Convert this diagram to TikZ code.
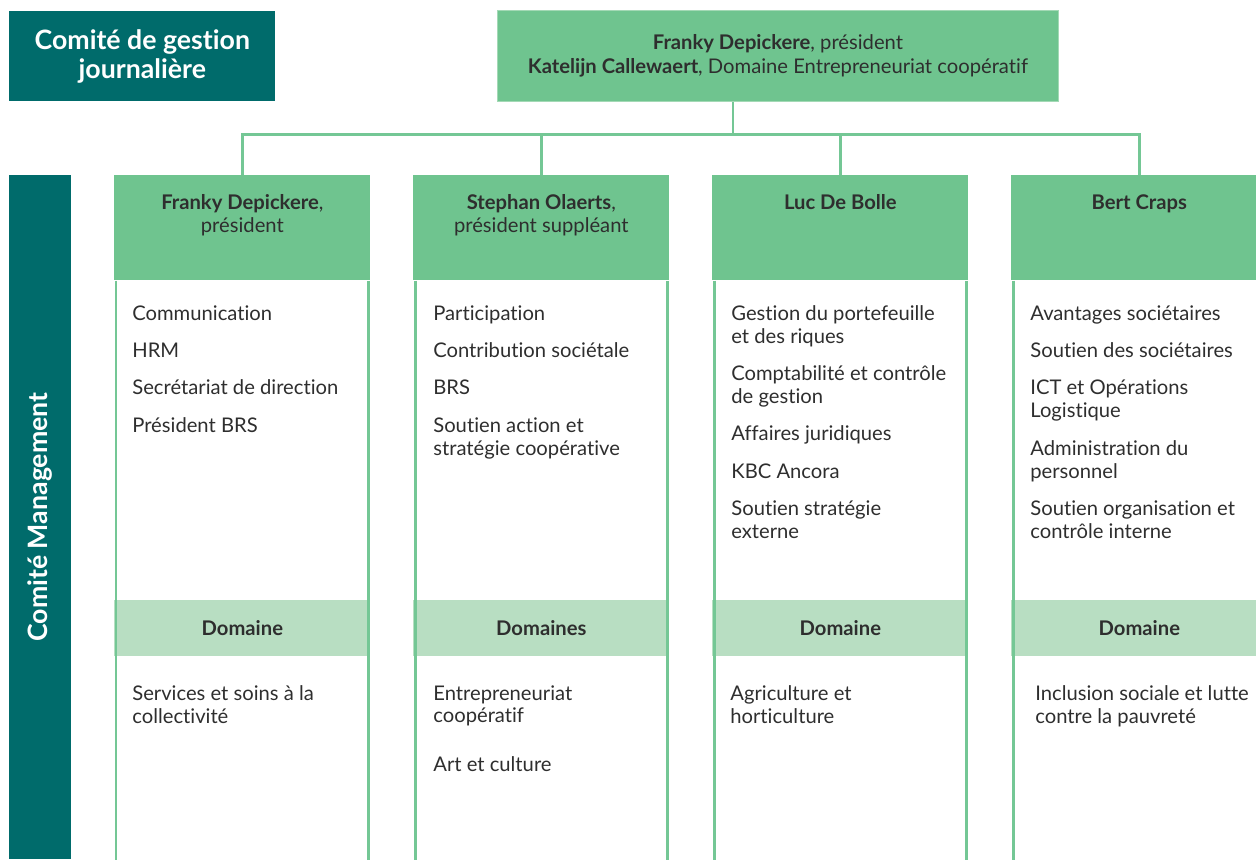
\documentclass[tikz,border=0pt]{standalone}
\usepackage{fontspec}
\setmainfont{Lato}[Ligatures=NoCommon]
\usetikzlibrary{positioning}
\definecolor{xteal}{HTML}{006B6B}
\definecolor{xgreen}{HTML}{6FC48F}
\definecolor{xedge}{HTML}{A3D9B5}
\definecolor{xlight}{HTML}{B8DEC2}
\definecolor{xline}{HTML}{74C795}
\definecolor{xtext}{HTML}{2E2E2E}
\tikzset{
	tealbox/.style = {fill=xteal, text=white, align=center, inner sep=0pt,
		font=\fontsize{15.2}{16.8}\selectfont\bfseries},
	headbox/.style = {fill=xgreen, minimum width=5.12cm, minimum height=2.1cm, anchor=north west, inner sep=0pt},
	headtext/.style = {text=xtext, align=center, inner sep=0pt, anchor=north,
		font=\fontsize{11.5}{13}\selectfont},
	band/.style = {fill=xlight, minimum width=5.12cm, minimum height=1.12cm, anchor=north west, inner sep=0pt,
		text=xtext, font=\fontsize{11.5}{13}\selectfont\bfseries},
	list/.style = {text=xtext, align=left, inner sep=0pt, anchor=north west,
		font=\fontsize{11.5}{13}\selectfont},
	rule/.style = {draw=xline, line width=1.7pt},
	link/.style = {draw=xline, line width=1.7pt},
}

\begin{document}
\begin{tikzpicture}[x=0.02cm, y=-0.02cm]
	\useasboundingbox (0,0) rectangle (1256,859);
	\clip (0,0) rectangle (1256,859);
	\node[tealbox, minimum width=5.32cm, minimum height=1.8cm, anchor=north west] (cgj) at (9,11) {Comité de gestion\\journalière};
	\node[fill=xgreen, draw=xedge, line width=0.6pt, minimum width=11.22cm, minimum height=1.82cm, anchor=north west,
		align=center, text=xtext, font=\fontsize{11.5}{13.5}\selectfont] (top) at (497,10)
		{\textbf{Franky Depickere}, président\\\textbf{Katelijn Callewaert}, Domaine Entrepreneuriat coopératif};
	\node[tealbox, rotate=90, minimum width=13.68cm, minimum height=1.24cm] (cm) at (40,517) {Comité Management};
	% columns
	\foreach \i/\x/\dom in {1/114/Domaine, 2/413/Domaines, 3/712/Domaine, 4/1011/Domaine} {
		\node[headbox] (h\i) at (\x,175) {};
		\node[band] (d\i) at (\x,600) {\dom};
		\draw[rule] ([xshift=0.04cm]h\i.south west) -- ++(0,579);
		\draw[rule] ([xshift=-0.04cm]h\i.south east) -- ++(0,579);
	}
	\path[link] ([xshift=-0.9cm]top.south) -- ++(0,32) coordinate (bus);
	\foreach \i in {1,...,4}
		\draw[link] (bus) -| (h\i.north);
	% heads
	\node[headtext, below=0.38cm of h1.north] (n1) {\textbf{Franky Depickere},\\président};
	\node[headtext, below=0.38cm of h2.north] (n2) {\textbf{Stephan Olaerts},\\président suppléant};
	\node[headtext, below=0.38cm of h3.north] (n3) {\textbf{Luc De Bolle}};
	\node[headtext, below=0.38cm of h4.north] (n4) {\textbf{Bert Craps}};
	% tasks
	\node[list] (t1) at (132,305) {Communication\\[8.3pt]HRM\\[8.3pt]Secrétariat de direction\\[8.3pt]Président BRS};
	\node[list] (t2) at (433,305) {Participation\\[8.3pt]Contribution sociétale\\[8.3pt]BRS\\[8.3pt]Soutien action et\\stratégie coopérative};
	\node[list] (t3) at (731,305) {Gestion du portefeuille\\et des riques\\[8.3pt]Comptabilité et contrôle\\de gestion\\[8.3pt]Affaires juridiques\\[8.3pt]KBC Ancora\\[8.3pt]Soutien stratégie\\externe};
	\node[list] (t4) at (1030,305) {Avantages sociétaires\\[8.3pt]Soutien des sociétaires\\[8.3pt]ICT et Opérations\\Logistique\\[8.3pt]Administration du\\personnel\\[8.3pt]Soutien organisation et\\contrôle interne};
	% domains
	\node[list] (dl1) at (132,685) {Services et soins à la\\collectivité};
	\node[list] (dl2) at (433,685) {Entrepreneuriat\\coopératif\\[14.8pt]Art et culture};
	\node[list] (dl3) at (730,685) {Agriculture et\\horticulture};
	\node[list] (dl4) at (1035,685) {Inclusion sociale et lutte\\contre la pauvreté};
\end{tikzpicture}
\end{document}
